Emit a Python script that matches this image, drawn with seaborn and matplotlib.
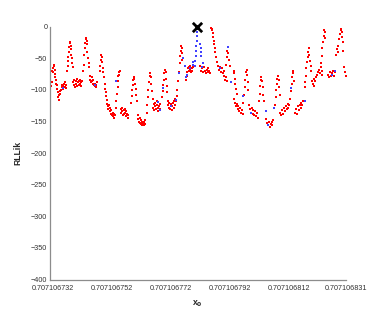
import matplotlib
matplotlib.use("Agg")
import matplotlib.pyplot as plt
import seaborn as sns
import pandas as pd

# x0 values are stored as offsets in units of 1e-9 above X0_BASE
X0_BASE = 0.7071067

red_x_ns = [
    31.6, 31.8, 32.0, 32.1, 32.3, 32.4, 32.6, 32.7, 32.9, 33.0, 33.2, 33.3, 33.5,
    33.6, 33.8, 34.0, 34.1, 34.3, 34.5, 34.7,
    34.9, 35.1, 35.3, 35.5, 35.7, 35.9, 36.1, 36.3, 36.5, 36.7,
    37.0, 37.1, 37.2, 37.4, 37.5, 37.7, 37.8, 38.0, 38.1, 38.3, 38.4, 38.6, 38.7, 38.9,
    39.0, 39.2, 39.4, 39.6, 39.8, 40.0, 40.2, 40.4, 40.6, 40.8, 41.0, 41.2, 41.4, 41.6, 41.8, 42.0,
    42.4, 42.6, 42.8, 42.9, 43.0, 43.2, 43.3, 43.5, 43.6, 43.8, 44.0, 44.2, 44.4,
    44.6, 44.8, 45.0, 45.2, 45.4, 45.6, 45.8, 46.0, 46.2, 46.4, 46.6, 46.8, 47.0,
    48.0, 48.2, 48.3, 48.5, 48.6, 48.8, 49.0, 49.2,
    49.4, 49.6, 49.8, 50.0, 50.2, 50.4,
    50.5, 50.7, 50.9, 51.1, 51.3, 51.5, 51.7, 51.9, 52.1, 52.3, 52.5, 52.7, 52.9, 53.1,
    53.4, 53.6, 53.8, 54.0, 54.1, 54.3, 54.4, 54.6, 54.8,
    55.0, 55.2, 55.4, 55.6, 55.8, 56.0, 56.2, 56.4, 56.6, 56.8, 57.0, 57.2, 57.4, 57.6,
    58.6, 58.8, 59.0, 59.2, 59.3, 59.5, 59.7, 59.9, 60.1, 60.3, 60.5,
    60.8, 61.0, 61.2, 61.4, 61.6, 61.8, 62.0, 62.2, 62.4, 62.6, 62.8, 63.0, 63.2, 63.4,
    63.8, 64.0, 64.2, 64.4, 64.6, 64.8, 65.0, 65.2, 65.4, 65.6, 65.8,
    66.0, 66.2, 66.4, 66.6, 66.8, 67.0, 67.2, 67.4, 67.6, 67.8, 68.0, 68.2, 68.4,
    69.0, 69.2, 69.4, 69.6, 69.8, 70.0, 70.2, 70.4, 70.6, 70.8,
    70.9, 71.1, 71.3, 71.5, 71.7, 71.9, 72.1, 72.3, 72.5, 72.7, 72.9, 73.1, 73.3, 73.5, 73.7, 73.9,
    74.2, 74.5, 74.8, 75.0, 75.1, 75.3, 75.4, 75.6, 75.7, 75.9,
    77.2, 77.4, 77.6, 77.8, 78.0, 78.2, 78.4, 78.6, 78.8, 79.0, 79.2, 79.4,
    82.0, 82.3, 82.6, 82.9, 83.2, 83.5, 83.8, 84.1, 84.4, 84.7, 85.0, 85.3,
    85.7, 85.8, 86.0, 86.1, 86.3, 86.4, 86.6, 86.8, 87.0, 87.3, 87.6,
    88.0, 88.3, 88.6, 88.9, 89.2, 89.5, 89.8, 90.1, 90.4, 90.7, 91.0,
    90.6, 90.8, 91.0, 91.2, 91.4, 91.6, 91.8,
    93.2, 93.4, 93.6, 93.8, 94.0, 94.2,
    93.3, 93.6, 93.9, 94.2, 94.5, 94.8, 95.1, 95.4, 95.7, 96.0, 96.3,
    96.5, 96.8, 97.0, 97.2, 97.4, 97.6, 97.8, 98.0, 98.2,
    98.4, 98.7, 99.0, 99.3, 99.6, 99.9, 100.2, 100.5, 100.8, 101.1, 101.4,
    101.8, 102.0, 102.2, 102.4, 102.6, 102.8, 103.0, 103.2, 103.4,
    104.2, 104.5, 104.8, 105.1, 105.4, 105.7, 106.0, 106.3, 106.6,
    107.2, 107.4, 107.6, 107.8, 108.0, 108.2, 108.4, 108.6, 108.8,
    109.0, 109.3, 109.6, 109.9, 110.2, 110.5, 110.8, 111.1, 111.4, 111.7, 112.0,
    112.4, 112.6, 112.8, 113.0, 113.2, 113.4, 113.6,
    114.0, 114.3, 114.6, 114.9, 115.2, 115.5, 115.8, 116.1, 116.4, 116.7,
    117.2, 117.4, 117.6, 117.8, 118.0, 118.2, 118.4, 118.6, 118.8, 119.0, 119.2, 119.4,
    119.6, 119.9, 120.2, 120.5, 120.8, 121.1, 121.4,
    121.7, 122.0, 122.3, 122.6, 122.9, 123.2,
    122.8, 123.0, 123.2, 123.4, 123.6, 123.8, 124.0, 124.2,
    125.2, 125.5, 125.8, 126.1, 126.4, 126.7, 127.0, 127.3,
    127.9, 128.1,
    128.4, 128.6, 128.9, 129.1, 129.3, 129.5, 129.7, 129.9, 130.1, 130.3,
    130.6, 130.8, 131.0,
]
red_rllik = [
    -94, -88, -70, -66, -72, -62, -60, -68, -75, -80, -84, -90, -92,
    -98, -104, -112, -116, -108, -102, -106,
    -100, -96, -92, -98, -94, -90, -88, -95, -92, -97,
    -70, -62, -55, -48, -40, -32, -26, -24, -30, -36, -44, -50, -58, -64,
    -88, -92, -84, -96, -90, -86, -94, -82, -88, -92, -86, -90, -84, -88, -94, -86,
    -70, -60, -45, -34, -26, -20, -18, -22, -28, -40, -50, -58, -64,
    -78, -84, -88, -80, -86, -90, -84, -92, -94, -90, -96, -92, -88,
    -70, -62, -52, -44, -48, -56, -66, -72,
    -80, -90, -98, -104, -110, -116,
    -122, -126, -130, -124, -134, -128, -138, -132, -140, -136, -142, -138, -144, -140,
    -128, -118, -106, -96, -86, -78, -72, -76, -70,
    -130, -136, -128, -134, -140, -132, -138, -130, -136, -142, -134, -138, -144, -140,
    -120, -110, -100, -92, -84, -80, -82, -90, -98, -108, -118,
    -140, -146, -150, -144, -152, -148, -154, -150, -156, -152, -155, -150, -154, -148,
    -136, -124, -112, -100, -88, -78, -74, -80, -90, -102, -114,
    -128, -122, -132, -126, -120, -130, -124, -118, -128, -134, -126, -122, -130,
    -112, -102, -92, -84, -74, -68, -72, -82, -94, -104,
    -118, -124, -128, -120, -130, -126, -122, -132, -126, -120, -128, -118, -124, -114, -118, -110,
    -100, -86, -72, -58, -46, -38, -30, -34, -42, -52,
    -84, -78, -72, -66, -70, -64, -68, -62, -72, -66, -70, -64,
    -62, -70, -66, -72, -64, -70, -74, -68, -72, -66, -70, -74,
    -2, -6, -4, -10, -16, -22, -28, -34, -40, -48, -56,
    -62, -68, -64, -72, -66, -74, -70, -78, -84, -80, -86,
    -60, -48, -38, -32, -42, -52, -62,
    -70, -74, -82, -90, -98, -106,
    -114, -120, -126, -122, -130, -126, -134, -128, -136, -132, -138,
    -120, -108, -96, -84, -72, -68, -76, -88, -100,
    -124, -130, -136, -128, -138, -132, -140, -134, -142, -136, -144,
    -118, -106, -94, -84, -80, -86, -96, -108, -118,
    -146, -152, -156, -150, -158, -154, -156, -150, -148,
    -124, -112, -100, -90, -82, -78, -84, -96, -108,
    -136, -140, -132, -138, -128, -134, -126, -130, -122, -128, -124,
    -114, -102, -90, -80, -70, -74, -86,
    -136, -130, -138, -126, -132, -124, -128, -120, -124, -118,
    -96, -88, -78, -66, -56, -48, -40, -34, -44, -54, -62, -70,
    -86, -90, -82, -94, -86, -80, -76,
    -72, -68, -74, -64, -70, -76,
    -58, -46, -34, -24, -14, -6, -8, -18,
    -76, -80, -72, -78, -74, -70, -78, -72,
    -44, -36,
    -40, -30, -20, -12, -6, -4, -8, -16, -24, -38,
    -64, -72, -78,
]

blue_x_ns = [
    35.7, 46.4, 53.5, 67.7, 68.3, 69.5, 72.0, 73.6, 74.6, 76.2, 76.6,
    77.0, 77.5, 78.5, 79.3, 79.6,
    80.2, 80.3, 80.4, 80.5, 80.6, 80.7, 80.8, 80.9, 81.0, 81.1,
    82.0, 82.1, 82.2, 82.3, 82.4, 83.0,
    88.5, 91.3, 92.3, 96.2, 98.9, 104.0, 104.8, 106.9, 112.6, 117.3, 126.4, 127.6,
]
blue_rllik = [
    -97, -92, -86, -119, -132, -97, -126, -116, -74, -50, -62,
    -80, -76, -66, -60, -56,
    -62, -54, -46, -38, -30, -22, -14, -8, -4, -2,
    -28, -34, -40, -46, -64, -58,
    -66, -32, -87, -110, -136, -134, -156, -128, -97, -118, -76, -70,
]

best_x_ns = [80.7]
best_rllik = [0]

xtick_values_ns = [32, 52, 72, 92, 112, 131]
xtick_labels = ["0.707106732", "0.707106752", "0.707106772",
                "0.707106792", "0.707106812", "0.707106831"]
ytick_values = [0, -50, -100, -150, -200, -250, -300, -350, -400]

def to_x(ns):
    return [X0_BASE + v * 1e-9 for v in ns]

red = pd.DataFrame({"x0": to_x(red_x_ns), "RLLik": red_rllik})
blue = pd.DataFrame({"x0": to_x(blue_x_ns), "RLLik": blue_rllik})
best = pd.DataFrame({"x0": to_x(best_x_ns), "RLLik": best_rllik})

sns.set_style("white")
plt.rcParams["font.family"] = ["Liberation Sans", "DejaVu Sans"]

fig = plt.figure(figsize=(3.82, 3.16), dpi=100)
ax = fig.add_axes([0.131, 0.1155, 0.775, 0.80])

sns.scatterplot(data=red, x="x0", y="RLLik", ax=ax, color="#ff0000",
                marker="s", s=3, linewidth=0, legend=False)
sns.scatterplot(data=blue, x="x0", y="RLLik", ax=ax, color="#4040ff",
                marker="s", s=3, linewidth=0, legend=False)
sns.scatterplot(data=best, x="x0", y="RLLik", ax=ax, color="black",
                marker="x", s=45, linewidth=2.0, legend=False, clip_on=False,
                zorder=5)

ax.set_xlim(X0_BASE + 31.18e-9, X0_BASE + 131.18e-9)
ax.set_ylim(-400, 0)
ax.set_xticks(to_x(xtick_values_ns))
ax.set_xticklabels(xtick_labels)
ax.set_yticks(ytick_values)
ax.set_yticklabels([f"\u2212{abs(v)}" if v < 0 else str(v) for v in ytick_values])

for side in ["top", "right"]:
    ax.spines[side].set_visible(False)
for side in ["left", "bottom"]:
    ax.spines[side].set_color("#8c8c8c")
    ax.spines[side].set_linewidth(0.9)
ax.tick_params(axis="both", direction="in", length=3, width=0.6,
               color="#8c8c8c", labelsize=5.2, labelcolor="#333333")
ax.tick_params(axis="y", pad=2)
ax.tick_params(axis="x", pad=4)

ax.set_xlabel("x$_\\mathbf{0}$", fontsize=6.2, fontweight="bold")
ax.set_ylabel("RLLik", fontsize=6.2, fontweight="bold")
ax.xaxis.set_label_coords(0.497, -0.075)
ax.yaxis.set_label_coords(-0.093, 0.5)

fig.savefig("out.png", dpi=100)
